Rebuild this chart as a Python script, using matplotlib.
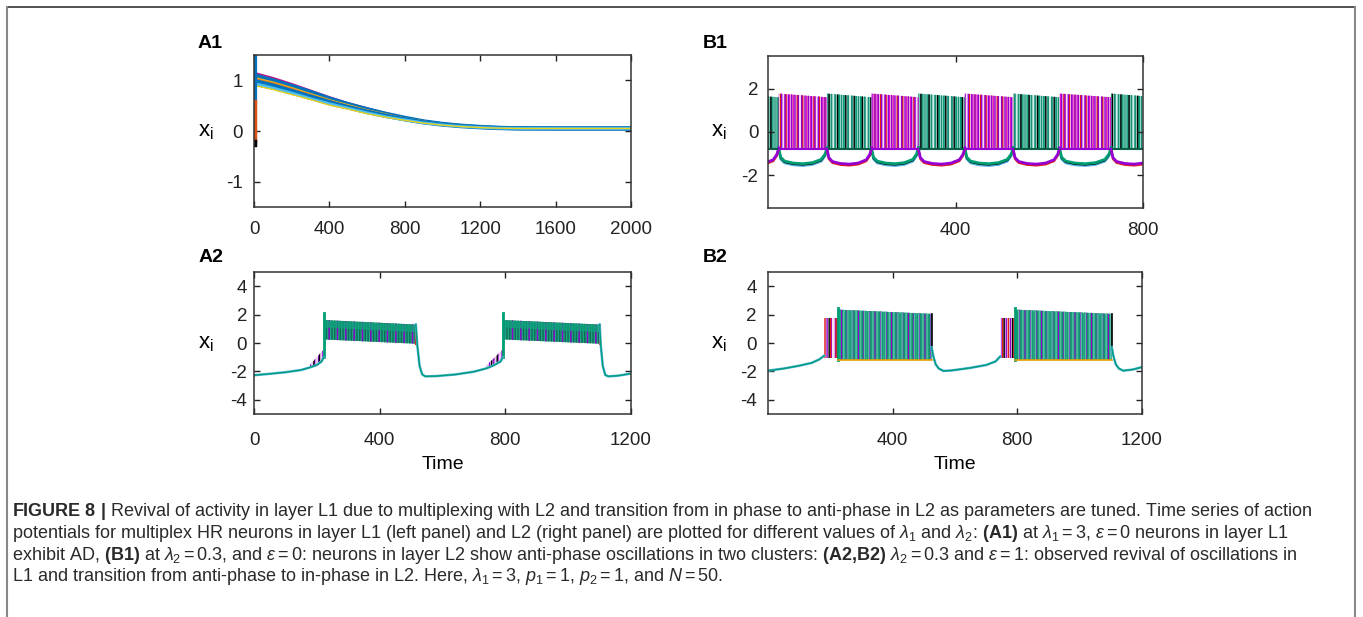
import matplotlib
matplotlib.use("Agg")
import matplotlib.pyplot as plt
from matplotlib.lines import Line2D
import numpy as np

# ---------------- data ----------------
# A1: layer L1, amplitude death (decay of 50 traces to a fixed point)
A1_T = [0, 100, 200, 300, 400, 500, 600, 700, 800, 900, 1000, 1100, 1200, 1300, 1400, 1600, 2000]
A1_TOP = [1.15, 1.05, 0.93, 0.80, 0.67, 0.55, 0.45, 0.35, 0.27, 0.20, 0.15, 0.11, 0.085, 0.065, 0.055, 0.05, 0.05]
A1_BLUE1 = [1.10, 1.00, 0.89, 0.77, 0.64, 0.53, 0.43, 0.34, 0.26, 0.19, 0.14, 0.105, 0.08, 0.063, 0.054, 0.05, 0.05]
A1_MID = [1.04, 0.95, 0.84, 0.72, 0.60, 0.50, 0.40, 0.32, 0.24, 0.18, 0.13, 0.10, 0.077, 0.06, 0.053, 0.05, 0.05]
A1_BLUE2 = [0.99, 0.90, 0.79, 0.68, 0.57, 0.47, 0.38, 0.30, 0.23, 0.17, 0.125, 0.095, 0.074, 0.058, 0.052, 0.05, 0.05]
A1_CYAN = [0.94, 0.85, 0.75, 0.64, 0.54, 0.45, 0.36, 0.28, 0.22, 0.16, 0.12, 0.09, 0.07, 0.057, 0.051, 0.05, 0.05]
A1_BOTTOM = [0.90, 0.82, 0.72, 0.62, 0.51, 0.43, 0.34, 0.27, 0.21, 0.155, 0.115, 0.087, 0.068, 0.056, 0.05, 0.05, 0.05]
A1_TRANSIENT_T = 4
A1_TRANSIENT_BLUE = [1.5, 0.6]
A1_TRANSIENT_ORANGE = [0.6, -0.2]
A1_TRANSIENT_BLACK = [-0.2, -0.27]

# B1: layer L2, anti-phase bursting in two clusters
B1_GREEN_BURSTS = [(-77, 23), (126, 221), (321, 420), (523, 622), (732, 830)]
B1_MAGENTA_BURSTS = [(23, 126), (221, 321), (420, 523), (622, 732)]
B1_SPIKE_TOP = [1.77, 1.6]
B1_SPIKE_BOTTOM = [-0.8, -0.8]
B1_U_PHASE = [0, 0.04, 0.12, 0.3, 0.5, 0.7, 0.88, 0.96, 1.0]
B1_U_VALUE = [-0.8, -1.2, -1.38, -1.47, -1.5, -1.45, -1.3, -1.05, -0.75]

# A2: layer L1 with multiplexing (revived bursting)
A2_SEG_T = [[0, 50, 100, 150, 178, 200, 215, 222],
            [515, 520, 527, 535, 545, 580, 640, 700, 741, 765, 785, 792],
            [1100, 1104, 1110, 1118, 1128, 1160, 1200]]
A2_SEG_V = [[-2.27, -2.17, -2.06, -1.9, -1.72, -1.55, -1.3, -1.0],
            [1.3, -0.2, -1.6, -2.2, -2.35, -2.33, -2.22, -2.02, -1.78, -1.55, -1.3, -1.0],
            [1.3, -0.2, -1.6, -2.25, -2.35, -2.3, -2.15]]
A2_PRE = [(178, 222), (741, 792)]
A2_PRE_TOP = [-1.55, -0.45]
A2_PRE_BOTTOM = [-1.75, -1.1]
A2_BURSTS = [(222, 515), (792, 1100)]
A2_PEAK = 2.1
A2_TOP = [1.62, 1.3]
A2_BOTTOM = [0.25, -0.05]

# B2: layer L2 with multiplexing (in-phase bursting)
B2_SEG_T = [[0, 50, 100, 140, 165, 180],
            [525, 530, 538, 548, 563, 590, 650, 700, 730, 745],
            [1103, 1108, 1116, 1126, 1140, 1170, 1200]]
B2_SEG_V = [[-1.95, -1.8, -1.6, -1.4, -1.15, -0.9],
            [-0.3, -0.9, -1.5, -1.8, -1.97, -1.93, -1.75, -1.55, -1.3, -0.95],
            [-0.3, -0.9, -1.5, -1.8, -1.95, -1.87, -1.7]]
B2_PRE = [(180, 224), (745, 794)]
B2_PRE_TOP = [1.75, 1.75]
B2_PRE_BOTTOM = [-1.05, -1.05]
B2_BURSTS = [(224, 525), (794, 1103)]
B2_PEAK = 2.45
B2_TOP = [2.35, 2.05]
B2_BOTTOM = [-1.2, -1.2]

# ---------------- style ----------------
W, H = 1363, 617
plt.rcParams['font.family'] = ['Liberation Sans', 'DejaVu Sans']
plt.rcParams['mathtext.fontset'] = 'custom'
plt.rcParams['mathtext.rm'] = 'Liberation Sans'
plt.rcParams['mathtext.it'] = 'Liberation Sans:italic'
plt.rcParams['mathtext.bf'] = 'Liberation Sans:bold'
plt.rcParams['hatch.linewidth'] = 1.0
plt.rcParams['axes.unicode_minus'] = False

ML = dict(blue='#0072BD', orange='#D95319', yellow='#EDB120', purple='#7E2F8E',
          cyan='#4DBEEE', red='#A2142F')
GP = dict(violet='#9400D3', green='#009E73', sky='#56B4E9', orange='#E69F00',
          yellow='#F0E442', blue='#0072B2', red='#E51E10', black='#000000', magenta='#E010C8')

fig = plt.figure(figsize=(W / 100, H / 100), dpi=100)


def px_axes(l, t, r, b):
    return fig.add_axes([l / W, 1 - b / H, (r - l) / W, (b - t) / H])


def style(ax, xlim, ylim, xticks, yticks, ypad, xpad):
    ax.set_xlim(*xlim)
    ax.set_ylim(*ylim)
    ax.set_xticks(xticks)
    ax.set_yticks(yticks)
    ax.tick_params(direction='in', top=True, right=True, length=4, width=1,
                   labelsize=13.5, colors='#222222')
    ax.tick_params(axis='y', pad=ypad)
    ax.tick_params(axis='x', pad=xpad)
    for s in ax.spines.values():
        s.set_linewidth(1.1)
        s.set_color('#333333')


def hatched(ax, t0, t1, bot, top, face, hatches, alpha=1.0):
    ax.fill_between([t0, t1], bot, top, facecolor=face, lw=0, alpha=alpha)
    for color, pat in hatches:
        ax.fill_between([t0, t1], bot, top, facecolor='none', edgecolor=color,
                        hatch=pat, lw=0)


# ---------------- A1 ----------------
axA1 = px_axes(254, 55, 631, 207)
axA1.fill_between(A1_T, A1_BOTTOM, A1_TOP, color=ML['blue'], lw=0)
axA1.plot(A1_T, A1_TOP, color='#C0148C', lw=1.4)
axA1.plot(A1_T, A1_BLUE1, color=ML['blue'], lw=3)
axA1.plot(A1_T, A1_MID, color=ML['yellow'], lw=2.2)
axA1.plot(A1_T, A1_MID, color=ML['orange'], lw=0.8, alpha=0.6)
axA1.plot(A1_T, A1_BLUE2, color=ML['blue'], lw=3)
axA1.plot(A1_T, A1_CYAN, color=ML['cyan'], lw=2)
axA1.plot(A1_T, A1_BOTTOM, color='#E8D020', lw=1.0)
axA1.plot([A1_TRANSIENT_T] * 2, A1_TRANSIENT_BLUE, color=ML['blue'], lw=3)
axA1.plot([A1_TRANSIENT_T] * 2, A1_TRANSIENT_ORANGE, color=ML['orange'], lw=2.5)
axA1.plot([A1_TRANSIENT_T] * 2, A1_TRANSIENT_BLACK, color='black', lw=2.5)
style(axA1, (0, 2000), (-1.5, 1.5), [0, 400, 800, 1200, 1600, 2000], [-1, 0, 1], 8, 10)

# ---------------- B1 ----------------
axB1 = px_axes(768, 56, 1143, 208)
uph = np.array(B1_U_PHASE)
uv = np.array(B1_U_VALUE)
for (t0, t1) in B1_MAGENTA_BURSTS:  # green cluster silent
    tt = t0 + uph * (t1 - t0)
    axB1.plot(tt, uv - 0.05, color=GP['sky'], lw=1.8)
    axB1.plot(tt, uv, color=GP['black'], lw=1.5)
    axB1.plot(tt, uv + 0.04, color=GP['green'], lw=2.0)
for (t0, t1) in B1_GREEN_BURSTS:  # magenta cluster silent
    tt = t0 + uph * (t1 - t0)
    axB1.plot(tt, uv - 0.04, color=GP['red'], lw=1.6)
    axB1.plot(tt, uv + 0.02, color=GP['violet'], lw=2.0)
for (t0, t1) in B1_GREEN_BURSTS:
    hatched(axB1, t0, t1, B1_SPIKE_BOTTOM, B1_SPIKE_TOP, '#d6efe6',
            [(GP['green'], '||||'), ('#1a8f7a', '|||||'), (GP['black'], '||')])
    axB1.plot([t0, t1], B1_SPIKE_BOTTOM, color='#0b5e4a', lw=1.5)
for (t0, t1) in B1_MAGENTA_BURSTS:
    hatched(axB1, t0, t1, B1_SPIKE_BOTTOM, B1_SPIKE_TOP, '#f6dcf0',
            [(GP['magenta'], '||||'), (GP['red'], '|||'), (GP['violet'], '|||||')])
    axB1.plot([t0, t1], B1_SPIKE_BOTTOM, color=GP['violet'], lw=1.5)
style(axB1, (0, 800), (-3.5, 3.5), [400, 800], [-2, 0, 2], 7, 10)

# ---------------- A2 ----------------
axA2 = px_axes(254, 272, 631, 414)
for (t0, t1) in A2_PRE:
    hatched(axA2, t0, t1, A2_PRE_BOTTOM, A2_PRE_TOP, '#e8c8f0',
            [(GP['violet'], '||||'), (GP['black'], '|||')])
for (t0, t1) in A2_BURSTS:
    axA2.plot([t0, t0], [-1.0, A2_PEAK], color=GP['green'], lw=2)
    hatched(axA2, t0, t1, A2_BOTTOM, A2_TOP, '#1fa382',
            [('#0b6e55', '||||||'), (GP['violet'], '||')])
    axA2.fill_between([t0, t1], [A2_TOP[0] - 0.5, A2_TOP[1] - 0.5], A2_TOP,
                      color='#10a07c', lw=0, alpha=0.85)
    axA2.plot([t1, t1], [A2_BOTTOM[1], A2_TOP[1]], color=GP['red'], lw=1.5)
for ts, vs in zip(A2_SEG_T, A2_SEG_V):
    axA2.plot(ts, vs, color=GP['sky'], lw=1.8)
    axA2.plot(ts, vs, color=GP['green'], lw=1.0)
style(axA2, (0, 1200), (-5, 5), [0, 400, 800, 1200], [-4, -2, 0, 2, 4], 5, 13)
axA2.set_xlabel('Time', fontsize=14, labelpad=5)

# ---------------- B2 ----------------
axB2 = px_axes(768, 272, 1142, 414)
for (t0, t1) in B2_PRE:
    hatched(axB2, t0, t1, B2_PRE_BOTTOM, B2_PRE_TOP, '#f3e3f6',
            [(GP['violet'], '||||'), (GP['red'], '|||'), (GP['black'], '||')])
for (t0, t1) in B2_BURSTS:
    axB2.plot([t0, t0], [-1.2, B2_PEAK], color=GP['green'], lw=2)
    hatched(axB2, t0, t1, B2_BOTTOM, B2_TOP, '#22ab88',
            [(GP['violet'], '|||'), ('#138f70', '||||||'), ('#58c0a4', '||||')])
    axB2.plot([t0, t1], B2_BOTTOM, color=GP['orange'], lw=1.2)
    axB2.plot([t1, t1], [-0.3, B2_TOP[1]], color=GP['black'], lw=1.2)
for ts, vs in zip(B2_SEG_T, B2_SEG_V):
    axB2.plot(ts, vs, color=GP['sky'], lw=1.8)
    axB2.plot(ts, vs, color=GP['green'], lw=1.0)
style(axB2, (0, 1200), (-5, 5), [400, 800, 1200], [-4, -2, 0, 2, 4], 8, 13)
axB2.set_xlabel('Time', fontsize=14, labelpad=5)

# ---------------- labels ----------------
def ftext(x, y, s, **kw):
    fig.text(x / W, 1 - y / H, s, **kw)

for (x, y, s) in [(198, 44, 'A1'), (703, 44, 'B1'), (199, 257, 'A2'), (703, 257, 'B2')]:
    ftext(x, y, s, fontsize=14, fontweight='bold', va='center', ha='left')
for (x, y) in [(198, 132), (711, 132), (198, 344), (711, 344)]:
    ftext(x, y, r'$\mathregular{x_i}$', fontsize=16, va='center', ha='left')

caption = [
    r"$\mathbf{FIGURE\ 8\ |}$ Revival of activity in layer L1 due to multiplexing with L2 and transition from in phase to anti-phase in L2 as parameters are tuned. Time series of action",
    r"potentials for multiplex HR neurons in layer L1 (left panel) and L2 (right panel) are plotted for different values of $\lambda_1$ and $\lambda_2$: $\mathbf{(A1)}$ at $\lambda_1 = 3$, $\epsilon = 0$ neurons in layer L1",
    r"exhibit AD, $\mathbf{(B1)}$ at $\lambda_2 = 0.3$, and $\epsilon = 0$: neurons in layer L2 show anti-phase oscillations in two clusters: $\mathbf{(A2{,}B2)}$ $\lambda_2 = 0.3$ and $\epsilon = 1$: observed revival of oscillations in",
    r"L1 and transition from anti-phase to in-phase in L2. Here, $\lambda_1 = 3$, $p_1 = 1$, $p_2 = 1$, and $N = 50$.",
]
for i, line in enumerate(caption):
    ftext(12, 512 + i * 21.6, line, fontsize=13.0, va='center', ha='left', color='#2a2a2a')

# frame
fig.add_artist(Line2D([7 / W, 1355 / W], [1 - 7 / H, 1 - 7 / H], transform=fig.transFigure,
                      color='#333333', lw=1.2))
fig.add_artist(Line2D([7 / W, 7 / W], [0, 1 - 7 / H], transform=fig.transFigure,
                      color='#888888', lw=1.5))
fig.add_artist(Line2D([1355 / W, 1355 / W], [0, 1 - 7 / H], transform=fig.transFigure,
                      color='#888888', lw=1.5))

fig.savefig('out.png', dpi=100)
